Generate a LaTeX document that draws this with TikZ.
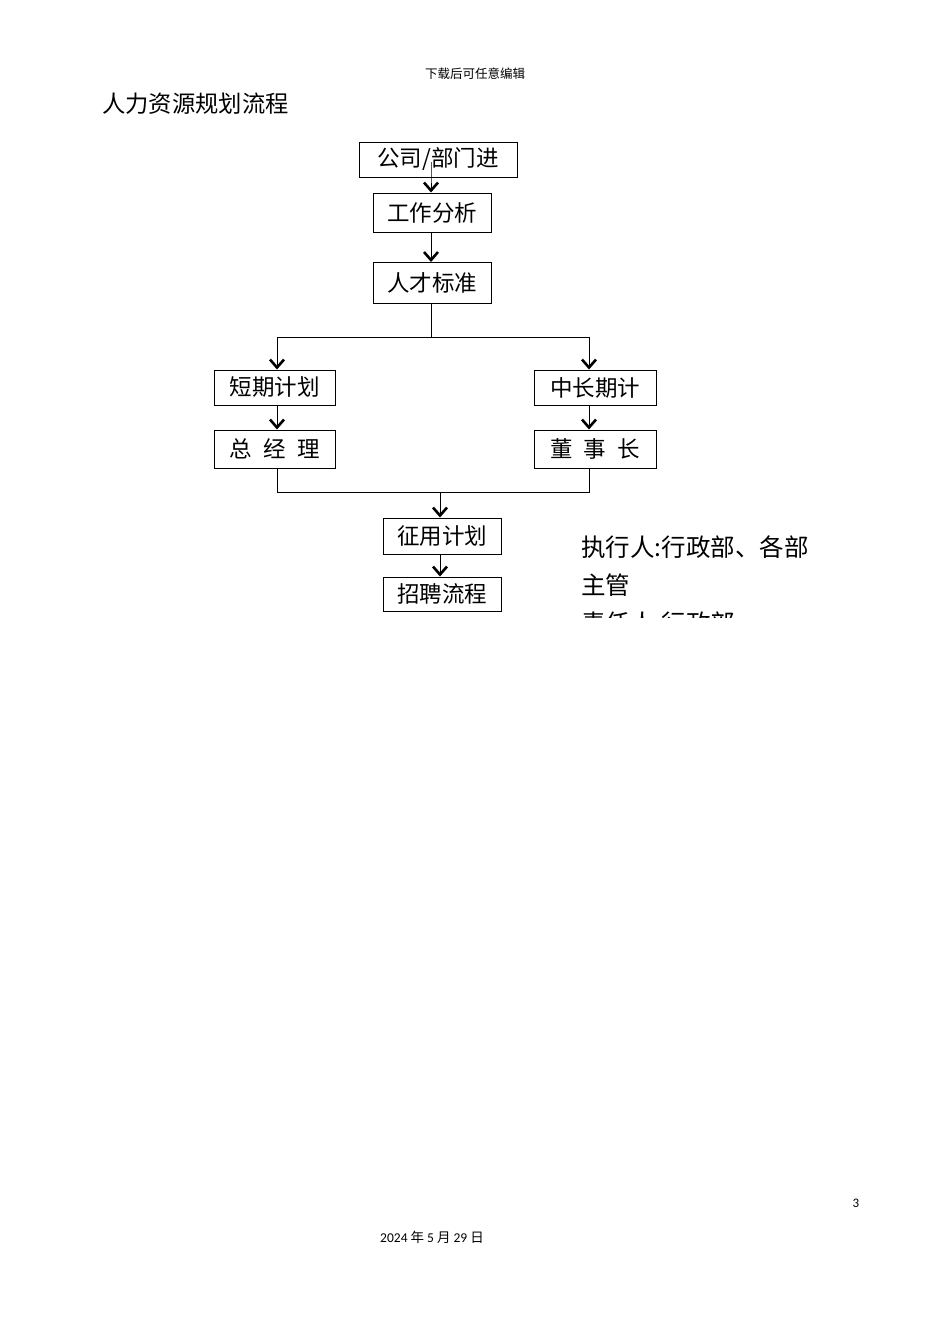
\documentclass[tikz,border=0pt]{standalone}
\usepackage{fontspec}
\setmainfont{Noto Sans CJK SC}
\newfontfamily\cjk{Noto Sans CJK SC}
\newfontfamily\numfont{Carlito}
\usetikzlibrary{arrows.meta}
\tikzset{
  box/.style={draw, line width=1pt, minimum height=35pt, inner sep=0pt, font=\fontsize{22.5}{22.5}\selectfont\cjk},
  conn/.style={line width=1pt},
  arr/.style={conn, -{Straight Barb[length=8pt,width=14pt,line width=2.6pt]}},
  side/.style={font=\fontsize{24.5}{24.5}\selectfont\cjk, anchor=base west, inner sep=0pt},
}
\begin{document}
\begin{tikzpicture}[x=1pt,y=-1pt]
\useasboundingbox (0,0) rectangle (950,1344);
% header / footer
\node[font=\fontsize{12.5}{12.5}\selectfont\cjk] (hdr) at (475,74) {下载后可任意编辑};
\node[font=\fontsize{23.3}{23.3}\selectfont\cjk, anchor=west, inner sep=0pt] (title) at (102,104) {人力资源规划流程};
\node[font=\fontsize{13}{13}\selectfont\numfont] (pg) at (856,1203) {3};
\node[font=\fontsize{13.5}{13.5}\selectfont] (date) at (432,1237) {{\numfont 2024} 年 {\numfont 5} 月 {\numfont 29} 日};
% boxes
\node[box, minimum width=158pt, minimum height=35pt] (b1) at (438,159.5) {公司/部门进};
\node[box, minimum width=118pt, minimum height=39pt] (b2) at (432,212.5) {工作分析};
\node[box, minimum width=118pt, minimum height=41pt] (b3) at (432,282.5) {人才标准};
\node[box, minimum width=121pt, minimum height=35pt] (l1) at (274.5,387.5) {短期计划};
\node[box, minimum width=121pt, minimum height=38pt] (l2) at (274.5,449) {总\hspace{0.5em}经\hspace{0.5em}理};
\node[box, minimum width=122pt, minimum height=35pt] (r1) at (595,387.5) {中长期计};
\node[box, minimum width=122pt, minimum height=38pt] (r2) at (595,449) {董\hspace{0.5em}事\hspace{0.5em}长};
\node[box, minimum width=118pt, minimum height=36pt] (c1) at (442,536) {征用计划};
\node[box, minimum width=118pt, minimum height=34pt] (c2) at (442,594) {招聘流程};
% connectors
\coordinate (s1) at (431,162);
\draw[arr] (s1) -- (b1.south -| s1) -- (s1 |- b2.north);
\draw[arr] (b2.south -| 431,0) -- (431,262);
\coordinate (split) at (431,337);
\draw[conn] (b3.south -| split) -- (split);
\draw[arr] (split) -- (277,337) -- (l1.north -| 277,0);
\draw[arr] (split) -- (589,337) -- (r1.north -| 589,0);
\draw[arr] (l1.south -| 277,0) -- (l2.north -| 277,0);
\draw[arr] (r1.south -| 589,0) -- (r2.north -| 589,0);
\coordinate (join) at (440,492);
\draw[conn] (l2.south -| 277,0) -- (277,492) -- (589,492) -- (r2.south -| 589,0);
\draw[arr] (join) -- (c1.north -| join);
\draw[arr] (c1.south -| join) -- (c2.north -| join);
% side text (clipped at page cut)
\begin{scope}
\clip (0,0) rectangle (950,617);
\node[side] (t1) at (581,556) {执行人:行政部、各部};
\node[side] (t2) at (581,594) {主管};
\node[side] (t3) at (581,632) {责任人:行政部};
\end{scope}
\end{tikzpicture}
\end{document}
